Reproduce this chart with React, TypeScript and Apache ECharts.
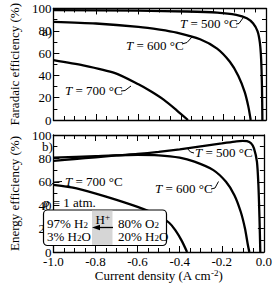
import React, { useEffect, useRef } from 'react';
import * as echarts from 'echarts';

const FONT = 'Liberation Serif, Times New Roman, serif';

// Faradaic efficiency (top panel)
const J_FE_500 = [-1.0, -0.6, -0.37, -0.23, -0.14, -0.09, -0.061, -0.04, -0.029, -0.023, -0.019, -0.017];
const FE_500 = [98.6, 98, 97.3, 96.3, 94.3, 91.3, 86.7, 79.7, 69.6, 55, 30, 0];
const J_FE_600 = [-1.0, -0.8, -0.6, -0.5, -0.42, -0.31, -0.23, -0.17, -0.13, -0.1, -0.083, -0.072];
const FE_600 = [88, 86.5, 83.5, 81, 78.3, 72.4, 64, 52.2, 39.5, 25, 12, 0];
const J_FE_700 = [-1.0, -0.86, -0.71, -0.6, -0.54, -0.48, -0.42, -0.367];
const FE_700 = [53.7, 49, 42, 32, 25.5, 18, 8.7, 0];

// Energy efficiency (bottom panel)
const J_EE_500 = [-1.0, -0.9, -0.8, -0.7, -0.6, -0.5, -0.4, -0.3, -0.2, -0.13, -0.1, -0.08, -0.061, -0.047, -0.033, -0.026, -0.021, -0.017];
const EE_500 = [77.8, 79.5, 81, 82.5, 83.8, 85.6, 87.8, 90.3, 92.8, 94.6, 95, 94.8, 92.9, 88.6, 77.2, 57.3, 30, 0];
const J_EE_600 = [-1.0, -0.8, -0.6, -0.5, -0.4, -0.33, -0.24, -0.18, -0.14, -0.11, -0.09, -0.076, -0.069];
const EE_600 = [80.6, 82, 83, 82.6, 80.6, 77.2, 70, 60, 48.6, 34.4, 20.3, 6, 0];
const J_EE_700 = [-1.0, -0.89, -0.75, -0.6, -0.5, -0.45, -0.42, -0.39, -0.365];
const EE_700 = [57.3, 54.4, 47.3, 38.5, 31, 25, 18.5, 9.5, 0];

const X_TICK_LABELS = ['-1.0', '-0.8', '-0.6', '-0.4', '-0.2', '0.0'];

const pairs = (xs: number[], ys: number[]) => xs.map((x, i) => [x, ys[i]]);

const tickCommon = {
  axisLine: { show: true, onZero: false, lineStyle: { color: '#000', width: 1.3 } },
  axisTick: { show: true, inside: true, length: 6, lineStyle: { color: '#000', width: 1 } },
  minorTick: { show: true, length: 4, lineStyle: { color: '#000', width: 1 } },
  splitLine: { show: false },
  minorSplitLine: { show: false },
};

const xAxis = (grid: number, pos: string, labels: boolean, name?: string) => ({
  type: 'value',
  gridIndex: grid,
  position: pos,
  min: -1,
  max: 0,
  interval: 0.2,
  ...tickCommon,
  minorTick: { ...tickCommon.minorTick, splitNumber: 4 },
  axisLabel: {
    show: labels,
    margin: 3,
    fontFamily: FONT,
    fontSize: 13,
    color: '#000',
    formatter: (v: number) => X_TICK_LABELS[Math.round((v + 1) / 0.2)] ?? v.toFixed(1),
  },
  name: name || '',
  nameLocation: 'middle',
  nameGap: 16,
  nameTextStyle: {
    fontFamily: FONT,
    fontSize: 13,
    color: '#000',
    rich: {
      n: { fontFamily: FONT, fontSize: 13, color: '#000' },
      s: { fontFamily: FONT, fontSize: 9, color: '#000', verticalAlign: 'top', lineHeight: 10 },
    },
  },
});

const yAxis = (grid: number, pos: string, labels: boolean, name?: string) => ({
  type: 'value',
  gridIndex: grid,
  position: pos,
  min: 0,
  max: 100,
  interval: 20,
  ...tickCommon,
  minorTick: { ...tickCommon.minorTick, splitNumber: 2 },
  axisLabel: { show: labels, margin: 2, fontFamily: FONT, fontSize: 13, color: '#000' },
  name: name || '',
  nameLocation: 'middle',
  nameGap: 20,
  nameTextStyle: { fontFamily: FONT, fontSize: 13, color: '#000' },
});

const lineSeries = (xi: number, yi: number, xs: number[], ys: number[]) => ({
  type: 'line',
  xAxisIndex: xi,
  yAxisIndex: yi,
  data: pairs(xs, ys),
  showSymbol: false,
  symbol: 'none',
  smooth: 0.25,
  lineStyle: { color: '#000', width: 2.3 },
  z: 3,
});

const RICH = {
  i: { fontFamily: FONT, fontSize: 13, fontStyle: 'italic', fill: '#000' },
  n: { fontFamily: FONT, fontSize: 13, fill: '#000' },
  sup: { fontFamily: FONT, fontSize: 9, fill: '#000', verticalAlign: 'top' },
  sub: { fontFamily: FONT, fontSize: 9, fill: '#000', verticalAlign: 'bottom' },
};

const txt = (x: number, y: number, text: string) => ({
  type: 'text',
  x,
  y,
  z: 20,
  style: {
    text,
    fill: '#000',
    fontFamily: FONT,
    fontSize: 13,
    textAlign: 'left',
    textVerticalAlign: 'middle',
    rich: RICH,
  },
});

const leader = (pts: number[][]) => ({
  type: 'polyline',
  z: 20,
  shape: { points: pts },
  style: { stroke: '#000', lineWidth: 1, fill: 'none' },
});

const option: any = {
  animation: false,
  backgroundColor: '#fff',
  textStyle: { fontFamily: FONT },
  grid: [
    { left: 33, right: 9, top: 5, height: 115 },
    { left: 33, right: 9, top: 135, height: 117 },
  ],
  xAxis: [
    xAxis(0, 'bottom', false),
    xAxis(0, 'top', false),
    xAxis(1, 'bottom', true, '{n|Current density (A cm}{s|-2}{n|)}'),
    xAxis(1, 'top', false),
  ],
  yAxis: [
    yAxis(0, 'left', true, 'Faradaic efficiency (%)'),
    yAxis(0, 'right', false),
    yAxis(1, 'left', true, 'Energy efficiency (%)'),
    yAxis(1, 'right', false),
  ],
  series: [
    lineSeries(0, 0, J_FE_500, FE_500),
    lineSeries(0, 0, J_FE_600, FE_600),
    lineSeries(0, 0, J_FE_700, FE_700),
    lineSeries(2, 2, J_EE_500, EE_500),
    lineSeries(2, 2, J_EE_600, EE_600),
    lineSeries(2, 2, J_EE_700, EE_700),
  ],
  graphic: [
    txt(42, 31, '{n|a)}'),
    txt(42, 146, '{n|b)}'),
    // top panel labels
    txt(180, 23, '{i|T}{n| = 500 °C}'),
    leader([[236, 24], [239, 23.5], [243, 18]]),
    txt(126, 45, '{i|T}{n| = 600 °C}'),
    leader([[182, 44], [187, 42.5], [192, 37]]),
    txt(65, 90, '{i|T}{n| = 700 °C}'),
    leader([[121, 91], [125, 90.5], [131, 86]]),
    // bottom panel labels
    txt(195, 152.5, '{i|T}{n| = 500 °C}'),
    leader([[194, 153], [190.5, 152], [187, 148]]),
    txt(155, 188.5, '{i|T}{n| = 600 °C}'),
    leader([[211, 189], [215, 188], [218.5, 181.5]]),
    txt(65, 181.5, '{i|T}{n| = 700 °C}'),
    leader([[50, 186.5], [54, 182], [62, 181.5]]),
    txt(43, 202, '{i|p}{n| = 1 atm.}'),
    // box
    {
      type: 'rect',
      z: 18,
      shape: { x: 43.5, y: 210, width: 123, height: 35.5, r: 4 },
      style: { fill: '#fff', stroke: '#000', lineWidth: 1.2 },
    },
    {
      type: 'rect',
      z: 19,
      shape: { x: 92, y: 210.6, width: 20.5, height: 34.3 },
      style: { fill: '#d6d6d6' },
    },
    txt(95.5, 219, '{n|H}{sup|+}'),
    {
      type: 'line',
      z: 20,
      shape: { x1: 99, y1: 227.5, x2: 113, y2: 227.5 },
      style: { stroke: '#000', lineWidth: 1.3 },
    },
    {
      type: 'polygon',
      z: 20,
      shape: { points: [[92, 227.5], [100, 224.8], [100, 230.2]] },
      style: { fill: '#000' },
    },
    txt(47, 223, '{n|97% H}{sub|2}'),
    txt(47, 236, '{n|3% H}{sub|2}{n|O}'),
    txt(118, 223, '{n|80% O}{sub|2}'),
    txt(118, 236, '{n|20% H}{sub|2}{n|O}'),
  ],
};

export default function App() {
  const ref = useRef<HTMLDivElement>(null);
  useEffect(() => {
    const chart = echarts.init(ref.current!, null, { renderer: 'svg' });
    chart.setOption(option);
    return () => chart.dispose();
  }, []);
  return (
    <div
      ref={ref}
      style={{ width: 275, height: 283, position: 'absolute', left: 0, top: 0 }}
    />
  );
}
